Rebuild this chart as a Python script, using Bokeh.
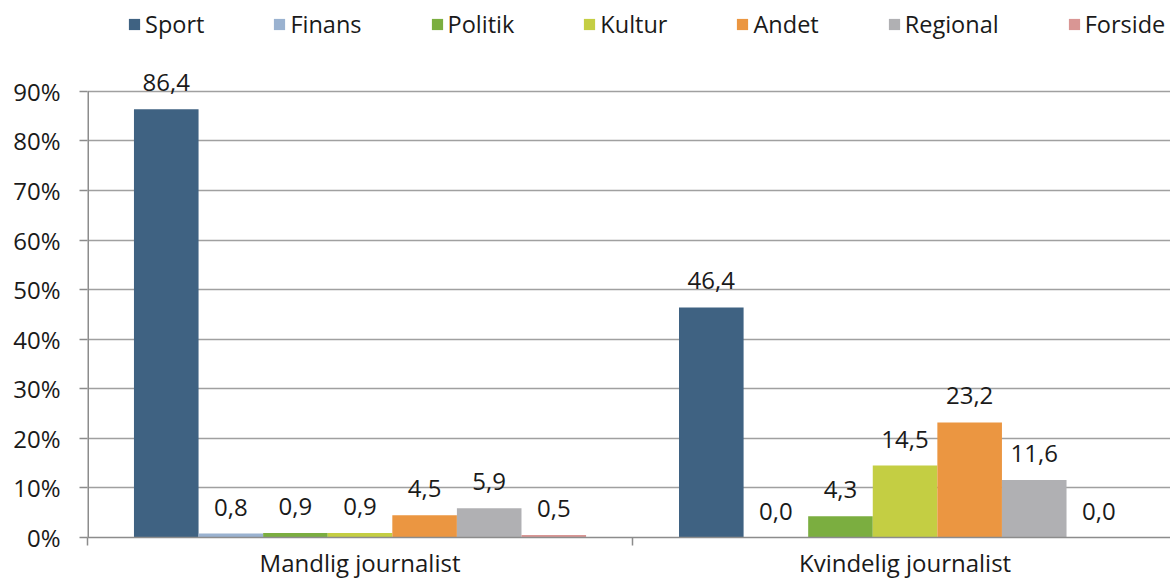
from bokeh.plotting import figure
from bokeh.models import (ColumnDataSource, Range1d, FixedTicker, PrintfTickFormatter,
                          LabelSet, Legend, LegendItem)
from bokeh.core.properties import value
from bokeh.transform import dodge
from bokeh.embed import file_html
from bokeh.resources import INLINE

categories = ["Mandlig journalist", "Kvindelig journalist"]
series = ["Sport", "Finans", "Politik", "Kultur", "Andet", "Regional", "Forside"]
sport = [86.4, 46.4]
finans = [0.8, 0.0]
politik = [0.9, 4.3]
kultur = [0.9, 14.5]
andet = [4.5, 23.2]
regional = [5.9, 11.6]
forside = [0.5, 0.0]
colors = ["#3F6282", "#9AB2D0", "#7BAE40", "#C4CE43", "#EB9641", "#B0B0B3", "#D99694"]
y_ticks = [0, 10, 20, 30, 40, 50, 60, 70, 80, 90]

values = [sport, finans, politik, kultur, andet, regional, forside]
centers = [0.5, 1.5]
BAR_W = 0.1185
FONT = "Open Sans"
TXT = "#1a1a1a"
AXC = "#8c8c8c"

# frame: left 87, bottom ~538, 90% line at 91; frame reaches the top so the legend fits
TOP = 1
BOTTOM = 538
Y_END = 90 * (BOTTOM - TOP) / (BOTTOM - 91)

p = figure(width=1170, height=581, x_range=Range1d(0, 1.987), y_range=Range1d(0, Y_END),
           output_backend="svg", toolbar_location=None,
           min_border_left=87, min_border_right=0, min_border_bottom=581 - BOTTOM,
           min_border_top=TOP)
p.outline_line_color = None
p.xgrid.visible = False

items = []
for i, (name, vals, col) in enumerate(zip(series, values, colors)):
    off = (i - 3) * BAR_W
    src = ColumnDataSource(dict(x=centers, y=vals))
    r = p.vbar(x=dodge("x", off), top="y", width=BAR_W, source=src,
               fill_color=col, line_color=None)
    items.append(LegendItem(label=name, renderers=[r]))
    lbl_src = ColumnDataSource(dict(x=[c + off for c in centers], y=vals,
                                    label=[f"{v:.1f}".replace(".", ",") for v in vals]))
    ls = LabelSet(x="x", y="y", text="label", source=lbl_src, text_align="center",
                  text_baseline="alphabetic", y_offset=18, text_font=value(FONT),
                  text_font_size="24px", text_color=TXT)
    p.add_layout(ls)

# y axis line only up to 90 %
p.segment(x0=[0], y0=[0], x1=[0], y1=[90], line_color=AXC, line_width=3)

legend = Legend(items=items, orientation="horizontal", location=(40, 497),
                spacing=68, glyph_width=14, glyph_height=14, label_standoff=4,
                label_text_font=FONT, label_text_font_size="23.5px",
                label_text_color=TXT, border_line_color=None,
                background_fill_alpha=0, padding=0, margin=0)
p.add_layout(legend, "center")

# y axis
p.yaxis.ticker = FixedTicker(ticks=y_ticks)
p.yaxis.formatter = PrintfTickFormatter(format="%d%%")
p.yaxis.major_tick_out = 8
p.yaxis.major_tick_in = 0
p.yaxis.minor_tick_line_color = None
p.yaxis.major_label_standoff = 19
p.yaxis.major_label_text_font = FONT
p.yaxis.major_label_text_font_size = "24px"
p.yaxis.major_label_text_color = TXT
p.yaxis.axis_line_color = None
p.yaxis.major_tick_line_color = AXC
p.yaxis.major_tick_line_width = 1.5

p.ygrid.ticker = FixedTicker(ticks=y_ticks)
p.ygrid.grid_line_color = "#a0a0a0"
p.ygrid.grid_line_width = 1.5

# x axis
p.xaxis.ticker = FixedTicker(ticks=centers, minor_ticks=[0, 1, 2])
p.xaxis.major_label_overrides = {0.5: categories[0], 1.5: categories[1]}
p.xaxis.major_tick_out = 0
p.xaxis.major_tick_in = 0
p.xaxis.minor_tick_out = 8
p.xaxis.minor_tick_in = 0
p.xaxis.minor_tick_line_color = AXC
p.xaxis.minor_tick_line_width = 1.5
p.xaxis.major_label_standoff = 0
p.xaxis.major_label_text_font = FONT
p.xaxis.major_label_text_font_size = "24px"
p.xaxis.major_label_text_color = TXT
p.xaxis.axis_line_color = AXC
p.xaxis.axis_line_width = 1.5

open("out.html", "w").write(file_html(p, INLINE))
